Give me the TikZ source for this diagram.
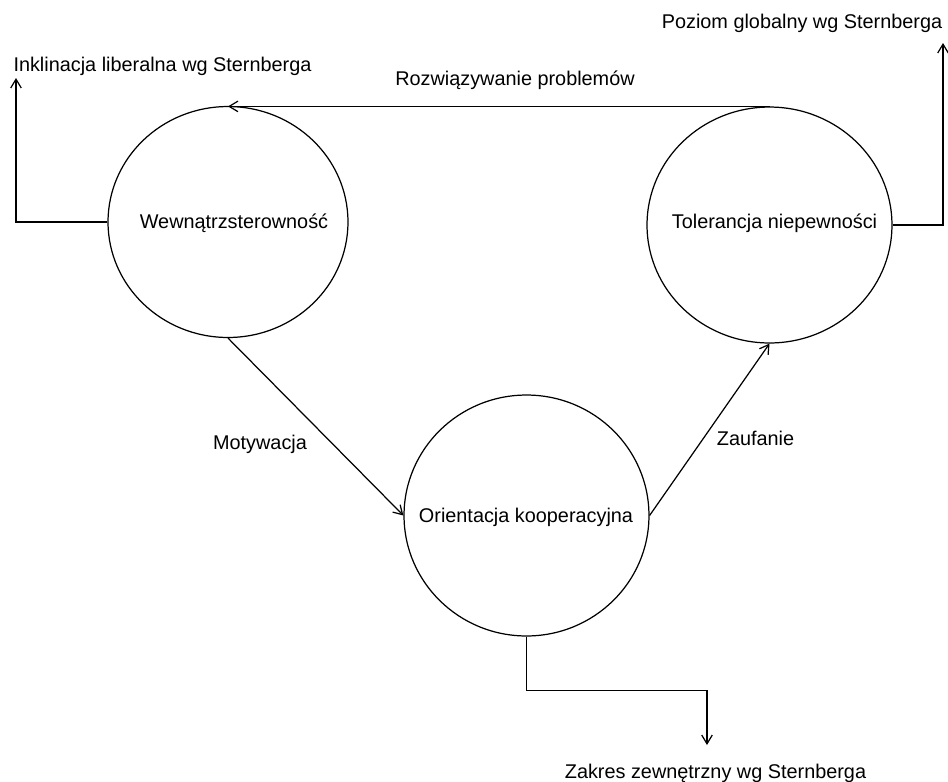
\documentclass[tikz,border=0pt]{standalone}
\usepackage{fontspec}
\setmainfont{Liberation Sans}
\usepackage{tikz}
\usetikzlibrary{shapes,arrows.meta,positioning,calc}
\tikzset{
    trait/.style={
        ellipse,
        draw,
        inner sep=0pt,
        minimum width=4.9cm,
        minimum height=4.72cm
    },
    txt/.style={
        anchor=base,
        inner sep=0pt,
        font=\fontsize{11.3}{13.5}\selectfont % Arial-like labels
    }
}

\begin{document}
\begin{tikzpicture}[x=0.02cm, y=-0.02cm, line width=0.7pt, >={Straight Barb[length=5pt,width=6pt]}]
    \useasboundingbox (0,0) rectangle (948,782);

    \node (wewn) [trait, minimum width=4.8cm, minimum height=4.62cm] at (228,222) {};
    \node (tol) [trait] at (769.5,225) {};
    \node (orient) [trait, minimum height=4.82cm] at (526.5,515.5) {};

    \node (wewn-txt) [txt] at (234,228) {Wewnątrzsterowność};
    \node (tol-txt) [txt] at (774.5,228) {Tolerancja niepewności};
    \node (orient-txt) [txt] at (526,522) {Orientacja kooperacyjna};

    % ends of the outgoing arrows
    \coordinate (inkl) at (16,78);
    \coordinate (poz) at (943,43);
    \coordinate (zak) at (707,745);

    \draw [->] (tol.north) -- (tol.north -| wewn.north);
    \draw [->] (wewn.south) -- (orient.west);
    \draw [->] (orient.east) -- (tol.south);
    \draw [->] (wewn.west) -| (inkl);
    \draw [->] (tol.east) -| (poz);
    \draw [->] (orient.south) |- ($(orient.south)!0.5!(zak)$) -| (zak);

    \node (rozw) [txt] at (515,85) {Rozwiązywanie problemów};
    \node (motyw) [txt] at (260,449) {Motywacja};
    \node (zauf) [txt] at (755.5,445) {Zaufanie};
    \node (inkl-txt) [txt] at (162.5,71) {Inklinacja liberalna wg Sternberga};
    \node (poz-txt) [txt] at (802,28) {Poziom globalny wg Sternberga};
    \node (zak-txt) [txt] at (715.5,778) {Zakres zewnętrzny wg Sternberga};
\end{tikzpicture}
\end{document}
